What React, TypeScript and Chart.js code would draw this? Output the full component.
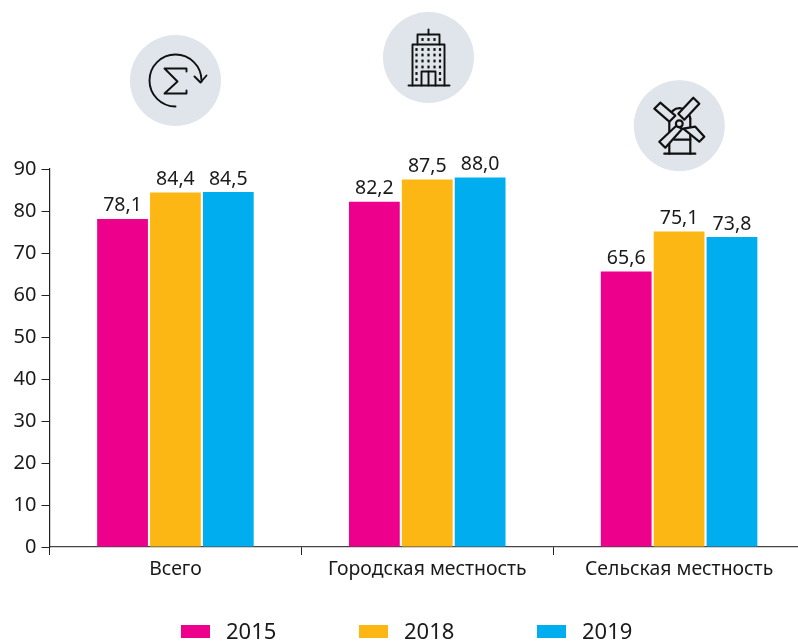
import { useEffect, useRef } from "react";
import { Chart, registerables } from "chart.js";

Chart.register(...registerables);

const categories = ["Всего", "Городская местность", "Сельская местность"];
const values2015 = [78.1, 82.2, 65.6];
const values2018 = [84.4, 87.5, 75.1];
const values2019 = [84.5, 88.0, 73.8];
const yTicks = [0, 10, 20, 30, 40, 50, 60, 70, 80, 90];
const seriesNames = ["2015", "2018", "2019"];
const seriesColors = ["#EC008C", "#FDB714", "#00AEEF"];
const legendSwatchX = [181, 359, 537];
const FONT = '"Noto Sans", sans-serif';
const TEXT = "#1a1a1a";
const BADGE = "#DFE5EB";

const dataLabels = {
  id: "dataLabels",
  afterDatasetsDraw(chart: any) {
    const { ctx } = chart;
    ctx.save();
    ctx.font = `19.5px ${FONT}`;
    ctx.fillStyle = TEXT;
    ctx.textAlign = "center";
    ctx.textBaseline = "alphabetic";
    chart.data.datasets.forEach((ds: any, i: number) => {
      chart.getDatasetMeta(i).data.forEach((bar: any, j: number) => {
        ctx.fillText(ds.data[j].toFixed(1).replace(".", ","), bar.x, bar.y - 7.5);
      });
    });
    ctx.restore();
  },
};

const customLegend = {
  id: "customLegend",
  afterDraw(chart: any) {
    const { ctx } = chart;
    ctx.save();
    ctx.font = `22px ${FONT}`;
    ctx.textBaseline = "alphabetic";
    chart.data.datasets.forEach((ds: any, i: number) => {
      const x = legendSwatchX[i];
      ctx.fillStyle = ds.backgroundColor;
      ctx.fillRect(x, 625, 29, 13);
      ctx.fillStyle = TEXT;
      ctx.fillText(ds.label, x + 45, 639);
    });
    ctx.restore();
  },
};

function line(ctx: any, pts: number[][]) {
  ctx.beginPath();
  pts.forEach((p, i) => (i ? ctx.lineTo(p[0], p[1]) : ctx.moveTo(p[0], p[1])));
  ctx.stroke();
}

function blade(ctx: any, pts: number[][]) {
  ctx.beginPath();
  pts.forEach((p, i) => (i ? ctx.lineTo(p[0], p[1]) : ctx.moveTo(p[0], p[1])));
  ctx.closePath();
  ctx.fillStyle = BADGE;
  ctx.fill();
  ctx.stroke();
}

function badge(ctx: any, cx: number, cy: number, draw: () => void) {
  ctx.save();
  ctx.translate(cx, cy);
  ctx.fillStyle = BADGE;
  ctx.beginPath();
  ctx.arc(0, 0, 45.5, 0, Math.PI * 2);
  ctx.fill();
  ctx.strokeStyle = "#111";
  ctx.fillStyle = "#111";
  ctx.lineWidth = 1.9;
  ctx.lineJoin = "round";
  ctx.lineCap = "round";
  draw();
  ctx.restore();
}

const icons = {
  id: "icons",
  afterDraw(chart: any) {
    const { ctx } = chart;
    badge(ctx, 175.5, 80.5, () => {
      ctx.beginPath();
      ctx.arc(0, 0, 26, Math.PI / 2, Math.PI * 2 + 0.05);
      ctx.stroke();
      line(ctx, [[19, -4], [25, 2], [31, -5]]);
      line(ctx, [[11, -9], [11, -12], [-11, -12], [2, 1], [-11, 13], [11, 13], [11, 10]]);
    });
    badge(ctx, 428.5, 57.5, () => {
      line(ctx, [[-20, 28], [21, 28]]);
      line(ctx, [[-16, 28], [-16, -13], [16, -13], [16, 28]]);
      line(ctx, [[-11, -13], [-11, -23], [11, -23], [11, -13]]);
      line(ctx, [[0, -28], [0, -23]]);
      line(ctx, [[-7, 28], [-7, 14], [7, 14], [7, 28]]);
      line(ctx, [[0, 14], [0, 28]]);
      const dot = (x: number, y: number) => ctx.fillRect(x - 1.1, y - 1.4, 2.2, 2.8);
      [-12, -6, 0, 6, 11.5].forEach((x) => [-8, -2.5, 3.5, 9.5].forEach((y) => dot(x, y)));
      [-12, 11.5].forEach((x) => [16, 22].forEach((y) => dot(x, y)));
      [-6, 0, 6].forEach((x) => dot(x, -18));
    });
    badge(ctx, 679.3, 125.7, () => {
      ctx.lineWidth = 2.2;
      line(ctx, [[-15, 28], [16, 28]]);
      line(ctx, [[-10, 28], [-10, -7]]);
      line(ctx, [[11, 28], [11, -7]]);
      line(ctx, [[-5, 14], [11, 14]]);
      ctx.beginPath();
      ctx.moveTo(-10, -7);
      ctx.bezierCurveTo(-9, -21, 9, -21, 11, -7);
      ctx.stroke();
      blade(ctx, [[-19, -23], [-25, -17], [-10, -4], [-4, -10]]);
      blade(ctx, [[14, -28], [20, -22], [5, -6], [-1, -12]]);
      blade(ctx, [[16, 1], [25, 11], [20, 16], [4, 3]]);
      blade(ctx, [[-20, 16], [-14, 22], [3, 3], [-3, 0]]);
      ctx.beginPath();
      ctx.arc(0, -2, 3.4, 0, Math.PI * 2);
      ctx.fillStyle = BADGE;
      ctx.fill();
      ctx.stroke();
    });
  },
};

export default function App() {
  const ref = useRef<HTMLCanvasElement>(null);
  useEffect(() => {
    const mk = (label: string, data: number[], color: string) => ({
      label,
      data,
      backgroundColor: color,
      categoryPercentage: 0.63,
      barPercentage: 0.96,
    });
    const chart = new Chart(ref.current!, {
      type: "bar",
      data: {
        labels: categories,
        datasets: [
          mk(seriesNames[0], values2015, seriesColors[0]),
          mk(seriesNames[1], values2018, seriesColors[1]),
          mk(seriesNames[2], values2019, seriesColors[2]),
        ],
      },
      options: {
        animation: false,
        responsive: false,
        layout: { padding: { top: 169, left: 0, right: 0, bottom: 0 } },
        plugins: { legend: { display: false }, tooltip: { enabled: false } },
        scales: {
          x: {
            grid: { offset: true, drawOnChartArea: false, drawTicks: true, tickLength: 8, color: "#222" },
            border: { color: "#444", width: 1.2 },
            ticks: { font: { family: FONT, size: 19.4 }, color: TEXT, padding: 3, maxRotation: 0, autoSkip: false },
            afterFit: (s: any) => { s.height = 95; },
          },
          y: {
            min: 0,
            max: 90,
            grid: { drawOnChartArea: false, drawTicks: true, tickLength: 8, color: "#222" },
            border: { color: "#222", width: 1.2 },
            afterBuildTicks: (s: any) => { s.ticks = yTicks.map((value) => ({ value })); },
            ticks: { font: { family: FONT, size: 20 }, color: TEXT, padding: 5 },
            afterFit: (s: any) => { s.width = 49.5; },
          },
        },
      } as any,
      plugins: [dataLabels, customLegend, icons],
    });
    return () => chart.destroy();
  }, []);
  return (
    <div style={{ position: "fixed", left: 0, top: 0, width: 798, height: 642, overflow: "hidden", background: "#fff" }}>
      <canvas ref={ref} width={805} height={642} style={{ display: "block" }} />
    </div>
  );
}
